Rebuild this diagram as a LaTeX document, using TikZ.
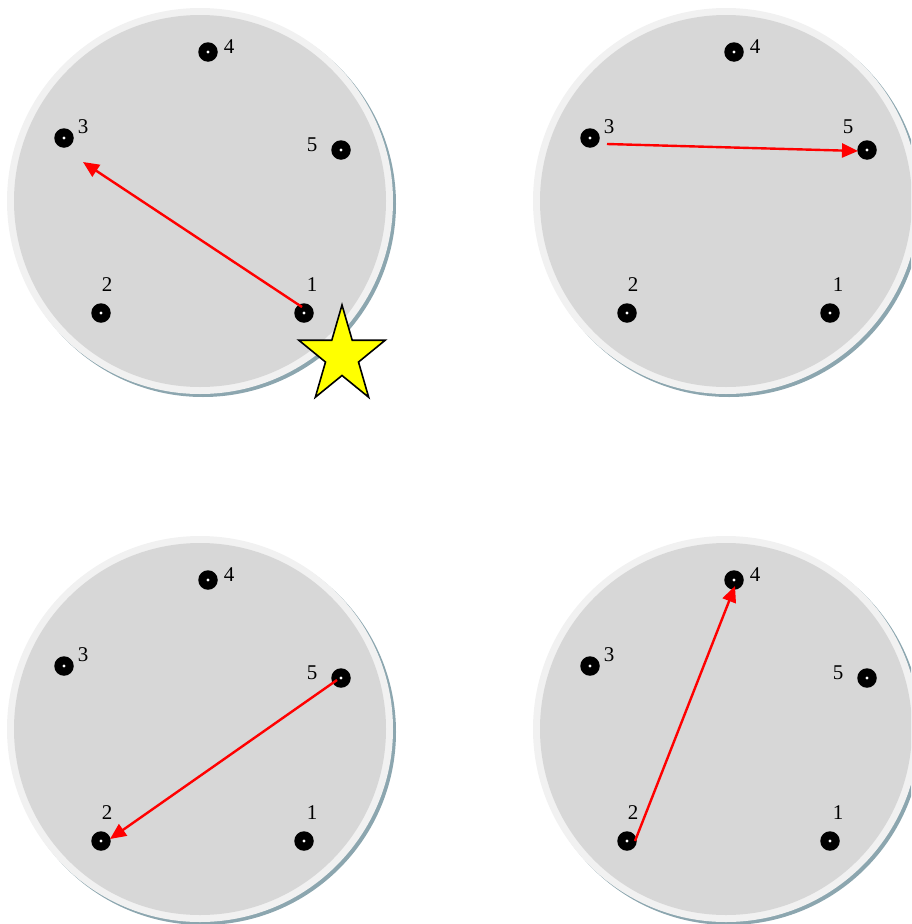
\documentclass[tikz,border=0pt]{standalone}
\usepackage{fontspec}
\setmainfont{Liberation Serif}
\usetikzlibrary{arrows.meta,calc}
\definecolor{rimc}{HTML}{F1F1F1}
\definecolor{innerc}{HTML}{D7D7D7}
\definecolor{shadowc}{HTML}{8CA6AF}
\definecolor{arrc}{HTML}{FF0000}
\definecolor{starc}{HTML}{FFFF00}
\tikzset{
  dotnode/.style={circle, fill=black, minimum size=19.5pt, inner sep=0pt,
    path picture={\fill[white] (path picture bounding box.center) circle (1.6pt);}},
  lbl/.style={font=\fontsize{21}{21}\selectfont, inner sep=0pt},
  arr/.style={draw=arrc, line width=2.4pt, -{Triangle[length=16pt,width=14pt]}},
}
% #1,#2 centre; #3 prefix; #4,#5 position of label 5
\newcommand{\platepanel}[5]{%
  \begin{scope}[shift={(#1,#2)}]
    \fill[shadowc] (3,3) circle (193);
    \fill[rimc] (0,0) circle (193);
    \fill[innerc] (0,0) circle (186);
    \node[dotnode] (#3-4) at (8,-149) {};
    \node[dotnode] (#3-3) at (-136,-63) {};
    \node[dotnode] (#3-5) at (141,-51) {};
    \node[dotnode] (#3-2) at (-99,112) {};
    \node[dotnode] (#3-1) at (104,112) {};
    \node[lbl] (#3-l4) at (29,-154) {4};
    \node[lbl] (#3-l3) at (-117,-74) {3};
    \node[lbl] (#3-l5) at (#4,#5) {5};
    \node[lbl] (#3-l2) at (-93,84) {2};
    \node[lbl] (#3-l1) at (112,84) {1};
  \end{scope}}
\begin{document}
\begin{tikzpicture}[x=1pt,y=-1pt]
\useasboundingbox (0,0) rectangle (911,924);
\begin{scope}
\clip (0,0) rectangle (911,924);
\platepanel{200}{201}{a}{112}{-56}
\platepanel{726}{201}{b}{122}{-74}
\platepanel{200}{729}{c}{112}{-56}
\platepanel{726}{729}{d}{112}{-56}
\end{scope}
% arrows
\coordinate (a-s) at (302,307);
\coordinate (a-e) at (83,162);
\draw[arr] (a-s) -- (a-e);
\coordinate (b-s) at (607,144);
\coordinate (b-e) at (858,151);
\draw[arr] (b-s) -- (b-e);
\coordinate (c-s) at (337,680);
\coordinate (c-e) at (110,839);
\draw[arr] (c-s) -- (c-e);
\coordinate (d-s) at (635,841);
\coordinate (d-e) at (735,586);
\draw[arr] (d-s) -- (d-e);
% star
\coordinate (starcen) at (342,356);
\draw[fill=starc, draw=black, line width=1.6pt, line join=miter]
  ($(starcen)+(0,-51)$)
  \foreach \k in {0,...,4} {
    -- ($(starcen)+({0.89*19.5*cos(-90+72*\k+36)},{19.5*sin(-90+72*\k+36)})$)
    -- ($(starcen)+({0.89*51*cos(-90+72*(\k+1))},{51*sin(-90+72*(\k+1))})$) } -- cycle;
\end{tikzpicture}
\end{document}
